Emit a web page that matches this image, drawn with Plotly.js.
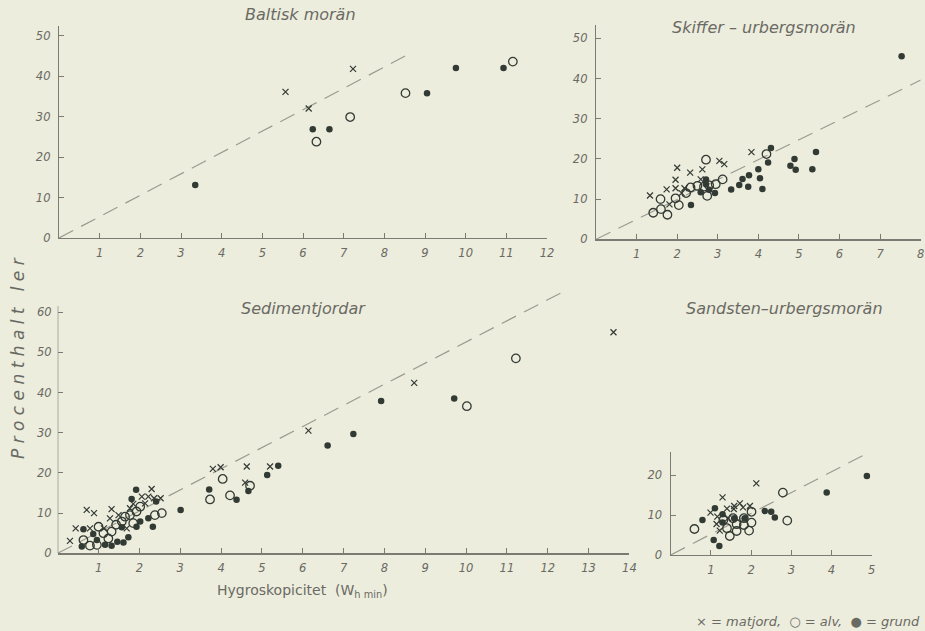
<!DOCTYPE html>
<html>
<head>
<meta charset="utf-8">
<script src="https://cdn.plot.ly/plotly-3.0.1.min.js"></script>
<style>html,body{margin:0;padding:0;background:#EDEDDD;}#chart{width:925px;height:631px;}</style>
</head>
<body>
<div id="chart"></div>
<script>
// ---------- Data (Hygroskopicitet vs Procenthalt ler) ----------
// Baltisk morän
const baltMatX = [5.57, 6.14, 7.23];
const baltMatY = [36.1, 32.0, 41.8];
const baltAlvX = [6.33, 7.16, 8.52, 11.16];
const baltAlvY = [23.8, 29.9, 35.8, 43.6];
const baltGrundX = [3.35, 6.24, 6.65, 9.05, 9.76, 10.93];
const baltGrundY = [13.1, 26.9, 26.9, 35.8, 42.0, 42.0];
const baltLineX = [0, 8.65];
const baltLineY = [0, 45.7];

// Skiffer-urbergsmorän
const skifMatX = [1.33, 1.74, 2.0, 1.96, 1.96, 1.81, 2.18, 2.32, 2.62, 2.58, 3.04, 3.16, 3.83, 2.11];
const skifMatY = [10.9, 12.4, 17.8, 14.8, 12.7, 8.7, 12.7, 16.6, 17.4, 14.9, 19.5, 18.7, 21.7, 11.5];
const skifAlvX = [1.41, 1.6, 1.76, 1.59, 1.96, 2.04, 2.22, 2.33, 2.5, 2.71, 2.74, 2.79, 2.95, 3.12, 4.2, 2.66];
const skifAlvY = [6.6, 7.5, 6.1, 10.0, 10.2, 8.5, 11.5, 12.9, 13.3, 19.8, 10.8, 13.4, 13.7, 14.9, 21.2, 13.1];
const skifGrundX = [2.34, 2.58, 2.71, 2.71, 2.79, 2.93, 3.33, 3.53, 3.61, 3.75, 3.77, 4.0, 4.04, 4.1, 4.24, 4.31, 4.79, 4.89, 4.92, 5.33, 5.42, 7.53];
const skifGrundY = [8.5, 11.7, 14.9, 13.7, 12.3, 11.5, 12.4, 13.5, 15.0, 13.1, 15.9, 17.4, 15.2, 12.5, 19.1, 22.7, 18.3, 20.0, 17.3, 17.4, 21.7, 45.5];
const skifLineX = [0, 8.0];
const skifLineY = [0, 39.6];

// Sedimentjordar
const sedMatX = [0.30, 0.44, 0.71, 0.89, 0.79, 1.32, 1.28, 1.49, 1.13, 1.77, 1.85, 2.06, 2.22, 2.14, 2.30, 2.36, 2.52, 1.69, 3.80, 3.99, 4.63, 4.59, 5.20, 6.14, 8.73, 13.61];
const sedMatY = [3.1, 6.2, 10.8, 10.0, 6.2, 11.0, 8.7, 9.5, 6.2, 11.2, 12.3, 14.1, 14.1, 12.4, 16.0, 13.7, 13.7, 6.2, 21.0, 21.4, 21.6, 17.6, 21.6, 30.5, 42.4, 55.0];
const sedAlvX = [0.63, 0.79, 1.0, 1.12, 0.96, 1.24, 1.32, 1.43, 1.57, 1.65, 1.77, 1.85, 1.93, 2.02, 2.38, 2.55, 3.73, 4.04, 4.22, 4.71, 10.02, 11.22];
const sedAlvY = [3.3, 1.9, 6.6, 5.0, 2.1, 3.7, 5.4, 7.1, 7.9, 9.1, 9.5, 7.5, 10.4, 11.6, 9.5, 10.0, 13.4, 18.5, 14.4, 16.8, 36.6, 48.5];
const sedGrundX = [0.59, 0.63, 0.87, 0.96, 1.16, 1.32, 1.46, 1.61, 1.73, 1.57, 1.92, 1.81, 1.93, 2.02, 2.22, 2.33, 2.41, 3.01, 3.71, 4.38, 4.67, 5.13, 5.40, 6.61, 7.24, 7.92, 9.71];
const sedGrundY = [1.7, 6.0, 4.8, 3.3, 2.1, 1.9, 2.9, 2.7, 4.0, 6.5, 15.8, 13.5, 6.6, 7.9, 8.7, 6.6, 12.9, 10.8, 15.9, 13.3, 15.5, 19.5, 21.8, 26.8, 29.7, 37.9, 38.5];
const sedLineX = [0, 12.46];
const sedLineY = [0, 65.5];

// Sandsten-urbergsmorän
const sandMatX = [1.29, 2.13, 0.99, 1.14, 1.16, 1.40, 1.58, 1.72, 1.57, 1.80, 1.97, 1.22, 1.43];
const sandMatY = [14.4, 17.9, 10.6, 7.75, 9.6, 11.6, 12.25, 12.9, 11.5, 11.9, 12.25, 6.1, 9.2];
const sandAlvX = [0.59, 1.40, 1.47, 1.64, 1.64, 1.82, 1.82, 1.95, 2.01, 2.01, 1.55, 2.79, 2.90, 1.31];
const sandAlvY = [6.5, 6.7, 4.75, 6.0, 7.7, 9.2, 7.5, 6.1, 8.1, 10.8, 9.2, 15.6, 8.6, 8.75];
const sandGrundX = [0.79, 1.10, 1.07, 1.21, 1.29, 1.29, 1.58, 1.84, 2.34, 2.50, 2.59, 3.88, 4.88];
const sandGrundY = [8.75, 11.7, 3.75, 2.25, 10.2, 8.1, 9.2, 9.2, 11.0, 10.8, 9.4, 15.6, 19.75];
const sandLineX = [0, 4.94];
const sandLineY = [0, 25.7];

// Text
const panelTitles = ['Baltisk morän', 'Skiffer \u2013 urbergsmorän', 'Sedimentjordar', 'Sandsten\u2013urbergsmorän'];
const yLabel = 'P r o c e n t h a l t &nbsp; l e r';
const xLabel = 'Hygroskopicitet &nbsp;(W<sub>h min</sub>)';
const legendText = '\u00d7 = matjord, &nbsp;\u25cb = alv, &nbsp;\u25cf = grund';

// ---------- Styling ----------
const W = 925, H = 631;
const ink = '#323a34';
const axisCol = '#7b7b73';
const textCol = '#6a6a64';
const dashCol = '#9a9a90';
const fontFam = 'DejaVu Sans, sans-serif';

function xd(a, b) { return [a / W, b / W]; }
function yd(bottom, top) { return [(H - bottom) / H, (H - top) / H]; }

function pts(x, y, xa, ya, kind) {
  const m = {
    mat: {symbol: 'x-thin-open', size: 6, line: {color: ink, width: 1.2}, color: ink},
    alv: {symbol: 'circle-open', size: 8.5, line: {color: ink, width: 1.3}, color: ink},
    grund: {symbol: 'circle', size: 6.5, color: ink, line: {width: 0}}
  }[kind];
  return {x: x, y: y, xaxis: xa, yaxis: ya, type: 'scatter', mode: 'markers', marker: m,
          cliponaxis: false, hoverinfo: 'x+y'};
}
function dline(x, y, xa, ya) {
  return {x: x, y: y, xaxis: xa, yaxis: ya, type: 'scatter', mode: 'lines',
          line: {color: dashCol, width: 1.2, dash: '16px,9px'}, hoverinfo: 'skip'};
}

const data = [
  dline(baltLineX, baltLineY, 'x', 'y'),
  pts(baltMatX, baltMatY, 'x', 'y', 'mat'),
  pts(baltAlvX, baltAlvY, 'x', 'y', 'alv'),
  pts(baltGrundX, baltGrundY, 'x', 'y', 'grund'),
  dline(skifLineX, skifLineY, 'x2', 'y2'),
  pts(skifMatX, skifMatY, 'x2', 'y2', 'mat'),
  pts(skifAlvX, skifAlvY, 'x2', 'y2', 'alv'),
  pts(skifGrundX, skifGrundY, 'x2', 'y2', 'grund'),
  dline(sedLineX, sedLineY, 'x3', 'y3'),
  pts(sedMatX, sedMatY, 'x3', 'y3', 'mat'),
  pts(sedAlvX, sedAlvY, 'x3', 'y3', 'alv'),
  pts(sedGrundX, sedGrundY, 'x3', 'y3', 'grund'),
  dline(sandLineX, sandLineY, 'x4', 'y4'),
  pts(sandMatX, sandMatY, 'x4', 'y4', 'mat'),
  pts(sandAlvX, sandAlvY, 'x4', 'y4', 'alv'),
  pts(sandGrundX, sandGrundY, 'x4', 'y4', 'grund')
];

const tickFont = {family: fontFam, size: 11.5, color: textCol, style: 'italic'};
function xax(dom, rng, anchor, n) {
  const tv = []; for (let i = 1; i <= n; i++) tv.push(i);
  return {domain: dom, range: rng, anchor: anchor, showgrid: false, zeroline: false,
          showline: true, linecolor: axisCol, linewidth: 1.2, ticks: 'inside', ticklen: 5,
          tickcolor: axisCol, tickwidth: 1, tickvals: tv, ticktext: tv.map(String),
          tickfont: tickFont, ticklabelstandoff: 4, fixedrange: true};
}
function yax(dom, rng, anchor, tv, showline) {
  return {domain: dom, range: rng, anchor: anchor, showgrid: false, zeroline: false,
          showline: showline, linecolor: axisCol, linewidth: 1.2, ticks: 'inside', ticklen: 5,
          tickcolor: axisCol, tickwidth: 1, tickvals: tv, ticktext: tv.map(String),
          tickfont: tickFont, ticklabelstandoff: 5, fixedrange: true};
}

const layout = {
  width: W, height: H,
  margin: {l: 0, r: 0, t: 0, b: 0},
  paper_bgcolor: '#EDEDDD', plot_bgcolor: 'rgba(0,0,0,0)',
  showlegend: false,
  font: {family: fontFam, color: textCol},
  xaxis: xax(xd(59, 547), [0, 12], 'y', 12),
  yaxis: yax(yd(238, 26.4), [0, 52.3], 'x', [0, 10, 20, 30, 40, 50], true),
  xaxis2: xax(xd(596, 920.7), [0, 8], 'y2', 8),
  yaxis2: yax(yd(239.3, 25.0), [0, 53.3], 'x2', [0, 10, 20, 30, 40, 50], true),
  xaxis3: xax(xd(57.7, 629.4), [0, 14], 'y3', 14),
  yaxis3: yax(yd(553.3, 290), [0, 65.5], 'x3', [0, 10, 20, 30, 40, 50, 60], false),
  xaxis4: xax(xd(670.7, 871.7), [0, 5], 'y4', 5),
  yaxis4: yax(yd(555, 452.2), [0, 25.7], 'x4', [0, 10, 20], true),
  shapes: [
    {type: 'line', xref: 'x3', yref: 'y3', x0: 0, x1: 0, y0: 0, y1: 61.5,
     line: {color: axisCol, width: 1.2}}
  ],
  annotations: [
    {text: panelTitles[0], x: 300 / W, y: 1 - 14 / H},
    {text: panelTitles[1], x: 764 / W, y: 1 - 27 / H},
    {text: panelTitles[2], x: 303 / W, y: 1 - 308 / H},
    {text: panelTitles[3], x: 784 / W, y: 1 - 308 / H},
    {text: yLabel, x: 18 / W, y: 1 - 358 / H, textangle: -90, font: {family: fontFam, size: 17, color: textCol, style: 'italic'}},
    {text: xLabel, x: 302 / W, y: 1 - 591 / H, font: {family: fontFam, size: 14, color: textCol, style: 'normal'}},
    {text: legendText, x: 808 / W, y: 1 - 621 / H, font: {family: fontFam, size: 13, color: textCol, style: 'italic'}}
  ].map(a => Object.assign({xref: 'paper', yref: 'paper', showarrow: false, xanchor: 'center', yanchor: 'middle',
                             font: {family: fontFam, size: 16, color: textCol, style: 'italic'}}, a))
};

Plotly.newPlot('chart', data, layout, {displayModeBar: false, staticPlot: true});
</script>
</body>
</html>
